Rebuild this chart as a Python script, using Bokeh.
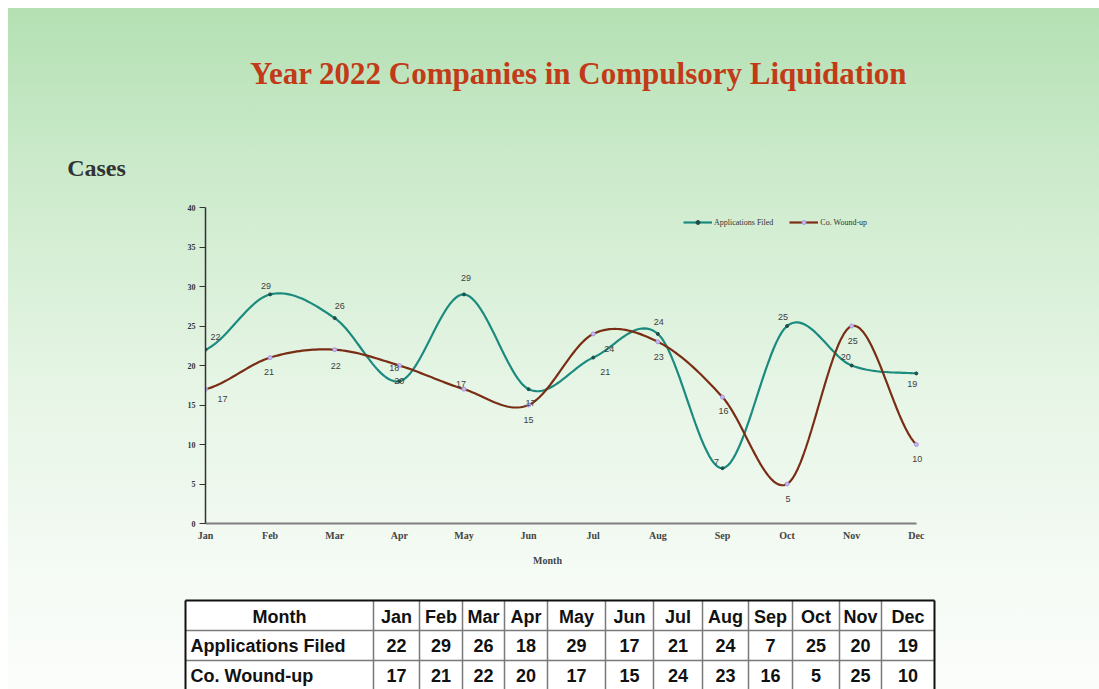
import numpy as np
from bokeh.plotting import figure
from bokeh.layouts import column
from bokeh.models import Range1d, Legend, LegendItem, FixedTicker, ColumnDataSource
from bokeh.core.properties import value
from bokeh.embed import file_html
from bokeh.resources import INLINE

# ---------------- data ----------------
months = ["Jan", "Feb", "Mar", "Apr", "May", "Jun", "Jul", "Aug", "Sep", "Oct", "Nov", "Dec"]
applications_filed = [22, 29, 26, 18, 29, 17, 21, 24, 7, 25, 20, 19]
co_wound_up = [17, 21, 22, 20, 17, 15, 24, 23, 16, 5, 25, 10]
series_names = ["Applications Filed", "Co. Wound-up"]
y_ticks = [0, 5, 10, 15, 20, 25, 30, 35, 40]
title_text = "Year 2022 Companies in Compulsory Liquidation"
y_title = "Cases"
x_title = "Month"

# ---------------- styles / layout ----------------
TEAL = "#1b8a7f"
BROWN = "#7a2d15"
SERIF = "Liberation Serif"
SANS = "Liberation Sans"
W = 1099
H_HEAD = 198
H_CHART = 347
H_TAB = 689 - H_HEAD - H_CHART

# label pixel offsets (layout only)
app_dx = [10, -4, 5, -5, 2, 2, 12, 1, -6, -4, -6, -4]
app_dy = [-13, -8, -12, -13, -16, 14, 14, -12, -6, -9, -9, 11]
co_dx = [17, -1, 1, 0, -3, 0, 16, 1, 1, 1, 1, 1]
co_dy = [10, 14, 16, 15, -5, 15, 15, 15, 14, 15, 15, 14]


def smooth(ys, n=24):
    """Excel-like smoothed line (Catmull-Rom Bezier) through the given points."""
    N = len(ys)
    xs_out, ys_out = [], []
    for i in range(N - 1):
        p0 = ys[i - 1] if i > 0 else ys[i]
        p1 = ys[i]
        p2 = ys[i + 1]
        p3 = ys[i + 2] if i + 2 < N else ys[i + 1]
        c1 = p1 + (p2 - p0) / 6.0
        c2 = p2 - (p3 - p1) / 6.0
        t = np.linspace(0, 1, n, endpoint=(i == N - 2))
        b = (1 - t) ** 3 * p1 + 3 * (1 - t) ** 2 * t * c1 + 3 * (1 - t) * t ** 2 * c2 + t ** 3 * p2
        xs_out.extend(list(i + t))
        ys_out.extend(list(b))
    return xs_out, ys_out


def blank(fig):
    fig.background_fill_alpha = 0
    fig.border_fill_alpha = 0
    fig.outline_line_color = None
    fig.grid.grid_line_color = None


x_idx = list(range(len(months)))

# ---------------- header (title + y title) ----------------
h = figure(width=W, height=H_HEAD, x_range=Range1d(0, W), y_range=Range1d(H_HEAD, 0),
           output_backend="svg", toolbar_location=None, min_border=0,
           x_axis_location=None, y_axis_location=None, frame_align=False)
blank(h)
h.text(x=[578], y=[73], text=[title_text], text_font=value(SERIF), text_font_style="bold",
       text_font_size="31px", text_color="#c23a17", text_align="center", text_baseline="middle")
h.text(x=[96], y=[167], text=[y_title], text_font=value(SERIF), text_font_style="bold",
       text_font_size="24px", text_color="#333333", text_align="center", text_baseline="middle")

# ---------------- chart ----------------
X_END = 11.25                      # a little room right of Dec for its data labels
unit = (916 - 205) / 11.0
frame_right = 205 + unit * X_END
p = figure(width=W, height=H_CHART, x_range=Range1d(0, X_END), y_range=Range1d(0, 40),
           output_backend="svg", toolbar_location=None, frame_align=False,
           min_border_left=205, min_border_right=int(round(W - frame_right)), min_border_top=9,
           min_border_bottom=H_CHART - (523 - H_HEAD))
blank(p)

p.yaxis.ticker = FixedTicker(ticks=y_ticks)
p.yaxis.axis_line_color = "#333333"
p.yaxis.axis_line_width = 1.5
p.yaxis.major_tick_line_color = "#333333"
p.yaxis.major_tick_in = 0
p.yaxis.major_tick_out = 6
p.yaxis.minor_tick_line_color = None
p.yaxis.major_label_text_font = SERIF
p.yaxis.major_label_text_font_style = "bold"
p.yaxis.major_label_text_font_size = "8px"
p.yaxis.major_label_text_color = "#333333"
p.yaxis.major_label_standoff = 4

p.xaxis.ticker = FixedTicker(ticks=x_idx)
p.xaxis.bounds = (0, 11)
p.xaxis.major_label_overrides = {i: m for i, m in enumerate(months)}
p.xaxis.axis_line_color = "#7f7f7f"
p.xaxis.axis_line_width = 2
p.xaxis.major_tick_line_color = None
p.xaxis.minor_tick_line_color = None
p.xaxis.major_label_text_font = SERIF
p.xaxis.major_label_text_font_style = "bold"
p.xaxis.major_label_text_font_size = "10px"
p.xaxis.major_label_text_color = "#444444"
p.xaxis.major_label_standoff = 0

ax, ay = smooth(applications_filed)
cx, cy = smooth(co_wound_up)
l1 = p.line(ax, ay, line_color=TEAL, line_width=2.2)
l2 = p.line(cx, cy, line_color=BROWN, line_width=2.2)
s1 = p.scatter(x_idx, applications_filed, size=3, fill_color="#1f4f4a", line_color="#1f4f4a")
s2 = p.scatter(x_idx, co_wound_up, size=4, fill_color="#c8b8f0", line_color="#a898e0")

src_a = ColumnDataSource(dict(x=x_idx, y=applications_filed, t=[str(v) for v in applications_filed],
                              dx=app_dx, dy=app_dy))
src_c = ColumnDataSource(dict(x=x_idx, y=co_wound_up, t=[str(v) for v in co_wound_up],
                              dx=co_dx, dy=co_dy))
for src in (src_a, src_c):
    p.text(x="x", y="y", text="t", source=src, x_offset="dx", y_offset="dy",
           text_font=value(SANS), text_font_size="9px", text_color="#404040",
           text_align="center", text_baseline="middle")

legend = Legend(items=[LegendItem(label=series_names[0], renderers=[l1, s1]),
                       LegendItem(label=series_names[1], renderers=[l2, s2])],
                orientation="horizontal", location=(478, 296))
legend.background_fill_alpha = 0
legend.border_line_color = None
legend.glyph_width = 29
legend.glyph_height = 10
legend.label_text_font = SERIF
legend.label_text_font_size = "8px"
legend.label_text_color = "#333333"
legend.label_standoff = 2
legend.spacing = 16
legend.padding = 0
legend.margin = 0
p.add_layout(legend)

# ---------------- lower part: x title + table ----------------
top_t = H_HEAD + H_CHART
t = figure(width=W, height=H_TAB, x_range=Range1d(0, W), y_range=Range1d(top_t + H_TAB, top_t),
           output_backend="svg", toolbar_location=None, min_border=0,
           x_axis_location=None, y_axis_location=None, frame_align=False)
blank(t)

t.text(x=[547], y=[560], text=[x_title], text_font=value(SERIF), text_font_style="bold",
       text_font_size="10px", text_color="#444444", text_align="center", text_baseline="middle")

edges = [185, 373, 419, 462, 504, 547, 605, 653, 702, 748, 792, 839, 881, 934]
rows = [600, 630, 660, 692]
t.quad(left=edges[0], right=edges[-1], top=rows[0], bottom=rows[-1], fill_color="white",
       line_color=None)
n_in = len(edges) - 2
t.segment(x0=edges[1:-1], y0=[rows[0]] * n_in, x1=edges[1:-1], y1=[rows[-1]] * n_in,
          line_color="#7a7a7a", line_width=1.5)
t.segment(x0=[edges[0]] * 2, y0=rows[1:3], x1=[edges[-1]] * 2, y1=rows[1:3],
          line_color="#7a7a7a", line_width=1.5)
t.segment(x0=[edges[0], edges[-1], edges[0]], y0=[rows[0], rows[0], rows[0]],
          x1=[edges[0], edges[-1], edges[-1]], y1=[rows[-1], rows[-1], rows[0]],
          line_color="#111111", line_width=2)

centers = [(edges[i] + edges[i + 1]) / 2 for i in range(len(edges) - 1)]
row_c = [616, 645, 675]
head_t = [x_title] + months
t.text(x=centers, y=[row_c[0]] * len(head_t), text=head_t, text_font=value(SANS),
       text_font_style="bold", text_font_size="18px", text_color="#111111",
       text_align="center", text_baseline="middle")
t.text(x=[edges[0] + 5] * 2, y=row_c[1:], text=series_names, text_font=value(SANS),
       text_font_style="bold", text_font_size="18px", text_color="#111111",
       text_align="left", text_baseline="middle")
for r, vals in zip(row_c[1:], (applications_filed, co_wound_up)):
    t.text(x=centers[1:], y=[r] * len(vals), text=[str(v) for v in vals], text_font=value(SANS),
           text_font_style="bold", text_font_size="18px", text_color="#111111",
           text_align="center", text_baseline="middle")

bg = ("linear-gradient(to bottom, #b4e0b3 0%, #cdebcc 25%, #e6f5e5 55%, #f6fbf6 85%, #fbfdfb 100%) "
      "8px 8px / calc(100% - 8px) calc(100% - 8px) no-repeat, #ffffff")
layout = column(h, p, t, spacing=0, styles={"background": bg})
open("out.html", "w").write(file_html(layout, INLINE))
